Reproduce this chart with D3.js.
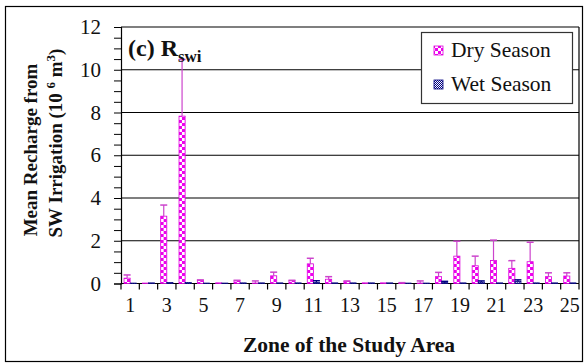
<!DOCTYPE html>
<html><head><meta charset="utf-8">
<script src="https://cdn.jsdelivr.net/npm/d3@7"></script>
<style>body{margin:0;background:#fff}svg{display:block}text{font-family:"Liberation Serif","Times New Roman",serif}</style>
</head><body><svg id="c" width="585" height="363"></svg>
<script>
const zones = d3.range(1, 26);
const tickLabels = ["1","3","5","7","9","11","13","15","17","19","21","23","25"];
const yTicks = [0,2,4,6,8,10,12];
const dryMean = [0.25,0.02,3.15,7.83,0.14,0.03,0.12,0.02,0.36,0.13,0.92,0.2,0.1,0.03,0.03,0.02,0.02,0.32,1.28,0.83,1.08,0.71,1.02,0.32,0.35];
const drySD   = [0.15,0,0.52,2.65,0.03,0,0.03,0.1,0.17,0.02,0.26,0.12,0.02,0,0,0.02,0.1,0.2,0.7,0.45,0.95,0.36,0.91,0.18,0.15];
const wetMean = [0.02,0.03,0.05,0.05,0.02,0.02,0.03,0.03,0.03,0.03,0.05,0.03,0.03,0.03,0.03,0.02,0.02,0.04,0.03,0.06,0.03,0.1,0.03,0.03,0.03];
const wetSD   = [0,0,0,0,0,0,0,0,0,0,0.08,0,0,0,0,0,0,0.06,0,0.06,0,0.07,0,0,0];
const series = ["Dry Season","Wet Season"];

const svg = d3.select("#c");
const L = 121, R = 579, T = 27, B = 283.5;
const x = d3.scaleBand().domain(zones).range([L, R]).padding(0);
const xs = d3.scaleBand().domain(series).range([0, x.bandwidth()]).paddingInner(0).paddingOuter(0.5);
const y = d3.scaleLinear().domain([0, 12]).range([B, T]);

const defs = svg.append("defs");
const pd = defs.append("pattern").attr("id","dry").attr("patternUnits","userSpaceOnUse").attr("width",6).attr("height",6);
pd.append("rect").attr("width",6).attr("height",6).attr("fill","#ee00ee");
pd.append("rect").attr("x",0).attr("y",0).attr("width",3).attr("height",3).attr("fill","#fff");
pd.append("rect").attr("x",3).attr("y",3).attr("width",3).attr("height",3).attr("fill","#fff");
const pw = defs.append("pattern").attr("id","wet").attr("patternUnits","userSpaceOnUse").attr("width",2).attr("height",2);
pw.append("rect").attr("width",2).attr("height",2).attr("fill","#000080");
pw.append("rect").attr("width",1).attr("height",1).attr("fill","#fff");
pw.append("rect").attr("x",1).attr("y",1).attr("width",1).attr("height",1).attr("fill","#fff");

// outer border
svg.append("rect").attr("x",5.5).attr("y",6.5).attr("width",577).attr("height",355).attr("fill","none").attr("stroke","#000").attr("stroke-width",1.2);

// gridlines
svg.append("g").selectAll("line").data(yTicks.filter(d=>d>0)).join("line")
  .attr("x1",L).attr("x2",R).attr("y1",d=>y(d)).attr("y2",d=>y(d)).attr("stroke","#000").attr("stroke-width",1.2);
svg.append("line").attr("x1",R).attr("x2",R).attr("y1",T).attr("y2",B).attr("stroke","#000").attr("stroke-width",1.2);

// y axis
const yAxis = d3.axisLeft(y).tickValues(d3.range(0,12.01,0.5)).tickSize(7).tickFormat(d => yTicks.includes(d) ? d : "");
const gy = svg.append("g").attr("transform",`translate(${L},0)`).call(yAxis);
gy.select(".domain").attr("stroke","#000").attr("stroke-width",1.2);
gy.selectAll("text").attr("font-size",21).attr("fill","#111").attr("x",-20).attr("font-family","Liberation Serif");

// x axis
const gx = svg.append("g").attr("transform",`translate(0,${B})`);
gx.append("line").attr("x1",L).attr("x2",R).attr("stroke","#000").attr("stroke-width",1.2);
gx.selectAll("line.t").data(zones.concat([26])).join("line").attr("class","t")
  .attr("x1",d=> d<=25 ? x(d) : R).attr("x2",d=> d<=25 ? x(d) : R).attr("y1",0).attr("y2",6).attr("stroke","#000").attr("stroke-width",1.2);
gx.selectAll("text").data(tickLabels).join("text")
  .attr("x",d=>x(+d)+x.bandwidth()/2).attr("y",28).attr("text-anchor","middle").attr("font-size",20).attr("fill","#111").text(d=>d);

// bars
const data = zones.map((z,i)=>({z, vals:[
  {s:"Dry Season", v:dryMean[i], e:drySD[i]},
  {s:"Wet Season", v:wetMean[i], e:wetSD[i]}]}));
const gz = svg.append("g").selectAll("g").data(data).join("g").attr("transform",d=>`translate(${x(d.z)},0)`);
gz.selectAll("rect").data(d=>d.vals).join("rect")
  .attr("x",d=>xs(d.s)).attr("width",xs.bandwidth()).attr("y",d=>y(d.v)).attr("height",d=>B-y(d.v))
  .attr("fill",d=>d.s==="Dry Season"?"url(#dry)":"url(#wet)")
  .attr("stroke",d=>d.s==="Dry Season"?"#dd00dd":"#000080").attr("stroke-width",0.8);
const eb = gz.selectAll("g.eb").data(d=>d.vals.filter(v=>v.e>0)).join("g").attr("class","eb");
eb.append("line").attr("x1",d=>xs(d.s)+xs.bandwidth()/2).attr("x2",d=>xs(d.s)+xs.bandwidth()/2)
  .attr("y1",d=>y(d.v)).attr("y2",d=>y(d.v+d.e)).attr("stroke",d=>d.s==="Dry Season"?"#cc44cc":"#000080").attr("stroke-width",1.2);
eb.append("line").attr("x1",d=>xs(d.s)+xs.bandwidth()/2-3.5).attr("x2",d=>xs(d.s)+xs.bandwidth()/2+3.5)
  .attr("y1",d=>y(d.v+d.e)).attr("y2",d=>y(d.v+d.e)).attr("stroke",d=>d.s==="Dry Season"?"#cc44cc":"#000080").attr("stroke-width",1.5);

// title inside plot
const t = svg.append("text").attr("x",128).attr("y",56).attr("font-size",24).attr("font-weight","bold").attr("fill","#111");
t.append("tspan").text("(c) R");
t.append("tspan").attr("font-size",17).attr("dy",6).text("swi");

// legend
const lg = svg.append("g");
lg.append("rect").attr("x",421.5).attr("y",32.5).attr("width",151).attr("height",71).attr("fill","#fff").attr("stroke","#333").attr("stroke-width",1.2);
series.forEach((s,i)=>{
  const yy = 50 + i*34;
  lg.append("rect").attr("x",434).attr("y",yy-4).attr("width",9).attr("height",9).attr("fill",i===0?"url(#dry)":"url(#wet)").attr("stroke",i===0?"#dd00dd":"#000080").attr("stroke-width",0.8);
  lg.append("text").attr("x",451).attr("y",yy+7).attr("font-size",21.5).attr("fill","#111").text(s);
});

// axis titles
svg.append("text").attr("x",349).attr("y",352).attr("text-anchor","middle").attr("font-size",21.5).attr("font-weight","bold").attr("fill","#111").text("Zone of the Study Area");
const yt = svg.append("text").attr("transform","translate(37,150) rotate(-90)").attr("text-anchor","middle").attr("font-size",19).attr("font-weight","bold").attr("fill","#111");
yt.append("tspan").attr("x",0).attr("dy",0).text("Mean Recharge from");
const l2 = svg.append("text").attr("transform","translate(62,143) rotate(-90)").attr("text-anchor","middle").attr("font-size",19).attr("font-weight","bold").attr("fill","#111");
l2.append("tspan").text("SW Irrigation  (10 ");
l2.append("tspan").attr("font-size",13).attr("dy",-7).text("6");
l2.append("tspan").attr("dy",7).text(" m");
l2.append("tspan").attr("font-size",13).attr("dy",-7).text("3");
l2.append("tspan").attr("dy",7).text(")");
</script></body></html>
